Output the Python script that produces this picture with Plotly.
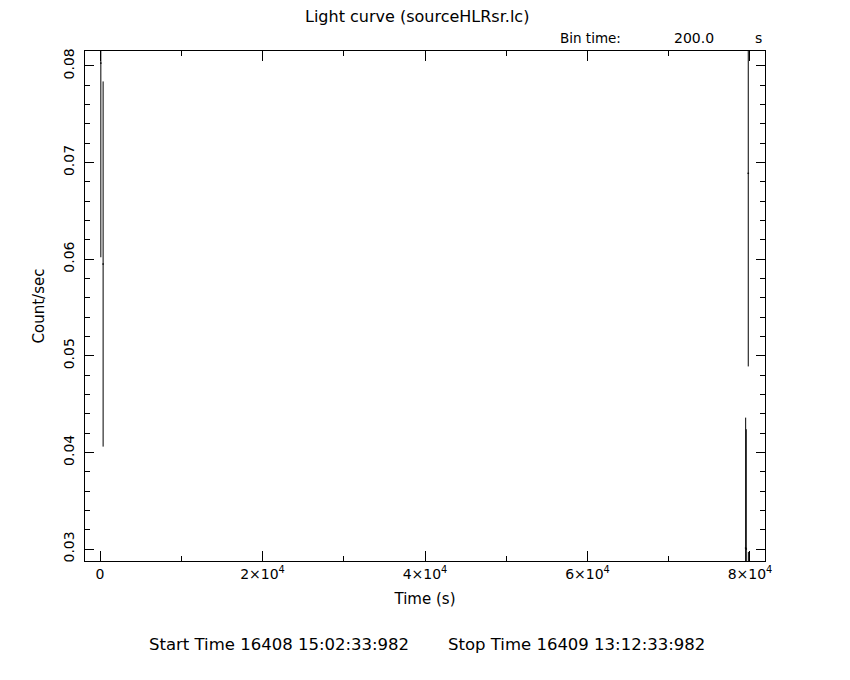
import plotly.graph_objects as go

# Light curve data (bin time 200 s)
time_s = [100, 380, 79470, 79540, 79790, 79800]
rate = [0.0803, 0.0595, 0.0301, 0.0300, 0.0689, 0.0]
rate_err = [0.0201, 0.0189, 0.0135, 0.0124, 0.0200, 0.0297]
half_bin = [100, 100, 100, 100, 100, 100]

x_tickvals = [0, 20000, 40000, 60000, 80000]
x_ticktext = ["0", "2×10<sup>4</sup>", "4×10<sup>4</sup>", "6×10<sup>4</sup>", "8×10<sup>4</sup>"]
y_tickvals = [0.03, 0.04, 0.05, 0.06, 0.07, 0.08]
y_ticktext = ["0.03", "0.04", "0.05", "0.06", "0.07", "0.08"]

FONT = "DejaVu Sans"
BLACK = "black"

fig = go.Figure()
fig.add_trace(go.Scatter(
    x=time_s, y=rate, mode="markers",
    marker=dict(size=1, color=BLACK),
    error_y=dict(type="data", array=rate_err, visible=True, color=BLACK, thickness=1, width=0),
    error_x=dict(type="data", array=half_bin, visible=True, color=BLACK, thickness=1, width=0),
    showlegend=False, cliponaxis=True,
))

axis_common = dict(
    showline=True, linecolor=BLACK, linewidth=1, mirror="ticks",
    ticks="inside", tickcolor=BLACK, tickwidth=1,
    showgrid=False, zeroline=False,
    tickfont=dict(family=FONT, size=14, color=BLACK),
)

# page has an 8px body margin; plot area targeted at x 85..765, y 51..561
fig.update_layout(
    width=850, height=680,
    paper_bgcolor="white", plot_bgcolor="white",
    margin=dict(l=77, r=93, t=43, b=127),
    font=dict(family=FONT, size=14, color=BLACK),
    xaxis=dict(
        range=[-1850, 81850], tickvals=x_tickvals, ticktext=x_ticktext, ticklen=10,
        minor=dict(dtick=10000, tick0=0, ticklen=5, ticks="inside", tickcolor=BLACK),
        title=dict(text="Time (s)", font=dict(family=FONT, size=15, color=BLACK), standoff=12),
        **axis_common,
    ),
    yaxis=dict(
        range=[0.02876, 0.08155], tickvals=y_tickvals, ticktext=y_ticktext, ticklen=9,
        tickangle=-90, ticklabelstandoff=4,
        minor=dict(dtick=0.002, tick0=0.03, ticklen=5, ticks="inside", tickcolor=BLACK),
        title=dict(text="Count/sec", font=dict(family=FONT, size=15, color=BLACK), standoff=13),
        **axis_common,
    ),
)

plot_l, plot_r, plot_t, plot_b = 85, 765, 51, 561
texts = [
    ("Light curve (sourceHLRsr.lc)", 417, 16, "center", 16),
    ("Bin time:", 558, 38, "left", 13.5),
    ("200.0", 694, 38, "center", 14),
    ("s", 758, 38, "center", 14),
    ("Start Time 16408 15:02:33:982", 147, 644, "left", 16.5),
    ("Stop Time 16409 13:12:33:982", 446, 644, "left", 16.5),
]
ann = []
for txt, px, py, anchor, size in texts:
    ann.append(dict(
        text=txt, xref="paper", yref="paper",
        x=(px - plot_l) / (plot_r - plot_l), y=(plot_b - py) / (plot_b - plot_t),
        xanchor=anchor, yanchor="middle", showarrow=False,
        font=dict(family=FONT, size=size, color=BLACK),
    ))
fig.update_layout(annotations=ann)

fig.write_html("out.html")
